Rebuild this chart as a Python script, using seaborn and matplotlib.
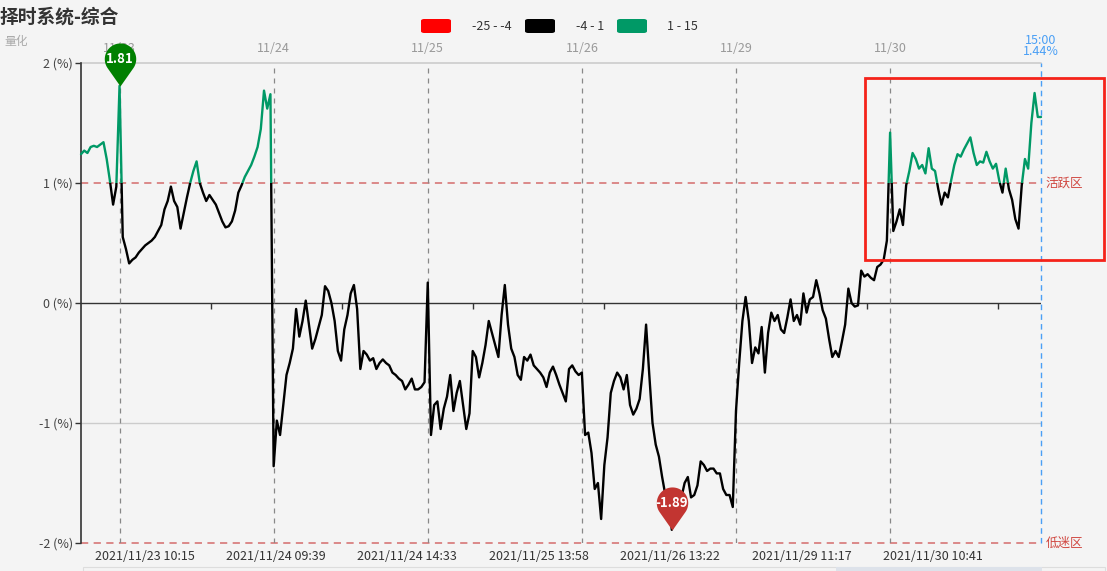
import numpy as np
import pandas as pd
import seaborn as sns
import matplotlib
matplotlib.use("Agg")
import matplotlib.pyplot as plt
import matplotlib.transforms as mtransforms
from matplotlib.patches import Rectangle, FancyBboxPatch
from matplotlib.path import Path

# ---------------- data (5-minute sampled, % values) ----------------
v_1122 = [1.24, 1.27, 1.25, 1.30, 1.31, 1.30, 1.32, 1.34, 1.20, 1.02, 0.82, 0.97]
v_1123 = [1.81, 0.55, 0.45, 0.33, 0.36, 0.38, 0.42, 0.45, 0.48, 0.50, 0.52, 0.55,
          0.60, 0.65, 0.78, 0.85, 0.97, 0.85, 0.80, 0.62, 0.75, 0.88, 1.00, 1.10,
          1.18, 1.00, 0.92, 0.85, 0.90, 0.86, 0.82, 0.75, 0.68, 0.63, 0.64, 0.68,
          0.77, 0.92, 0.98, 1.05, 1.10, 1.15, 1.22, 1.30, 1.45, 1.77, 1.62, 1.74]
v_1124 = [-1.36, -0.98, -1.10, -0.85, -0.60, -0.50, -0.38, -0.05, -0.28, -0.15, 0.02, -0.18,
          -0.38, -0.30, -0.20, -0.10, 0.14, 0.10, 0.00, -0.15, -0.40, -0.48, -0.22, -0.10,
          0.08, 0.15, -0.05, -0.55, -0.40, -0.43, -0.48, -0.46, -0.55, -0.50, -0.47, -0.50,
          -0.52, -0.58, -0.60, -0.63, -0.65, -0.72, -0.68, -0.63, -0.72, -0.72, -0.70, -0.66]
v_1125 = [0.17, -1.10, -0.85, -0.82, -1.05, -0.88, -0.78, -0.60, -0.90, -0.75, -0.65, -0.85,
          -1.05, -0.92, -0.40, -0.45, -0.62, -0.50, -0.35, -0.15, -0.25, -0.35, -0.45, -0.10,
          0.15, -0.18, -0.38, -0.45, -0.60, -0.64, -0.45, -0.48, -0.43, -0.52, -0.55, -0.58,
          -0.62, -0.70, -0.58, -0.53, -0.60, -0.68, -0.75, -0.82, -0.55, -0.52, -0.57, -0.60]
v_1126 = [-0.58, -1.10, -1.08, -1.25, -1.55, -1.50, -1.80, -1.35, -1.12, -0.75, -0.65, -0.58,
          -0.62, -0.72, -0.60, -0.85, -0.93, -0.88, -0.80, -0.55, -0.18, -0.60, -1.00, -1.18,
          -1.28, -1.45, -1.60, -1.62, -1.89, -1.78, -1.68, -1.62, -1.50, -1.45, -1.62, -1.60,
          -1.52, -1.32, -1.35, -1.40, -1.38, -1.38, -1.42, -1.42, -1.55, -1.60, -1.60, -1.70]
v_1129 = [-0.90, -0.50, -0.15, 0.05, -0.15, -0.50, -0.37, -0.42, -0.20, -0.58, -0.25, -0.08,
          -0.15, -0.10, -0.22, -0.25, -0.12, 0.03, -0.15, -0.10, -0.18, 0.08, -0.08, 0.03,
          0.05, 0.19, 0.08, -0.06, -0.13, -0.30, -0.45, -0.40, -0.45, -0.32, -0.18, 0.12,
          0.00, -0.03, -0.02, 0.27, 0.22, 0.24, 0.21, 0.19, 0.30, 0.32, 0.36, 0.52]
v_1130 = [1.42, 0.60, 0.68, 0.78, 0.65, 0.98, 1.10, 1.25, 1.20, 1.12, 1.15, 1.08,
          1.29, 1.12, 1.10, 0.95, 0.82, 0.92, 0.88, 1.02, 1.15, 1.24, 1.22, 1.28,
          1.33, 1.38, 1.25, 1.15, 1.18, 1.17, 1.26, 1.18, 1.12, 1.16, 1.02, 0.92,
          1.12, 0.95, 0.86, 0.70, 0.62, 0.98, 1.20, 1.12, 1.50, 1.75, 1.55, 1.55]

day_names = ["11/22", "11/23", "11/24", "11/25", "11/26", "11/29", "11/30"]
bottom_labels = ["2021/11/23 10:15", "2021/11/24 09:39", "2021/11/24 14:33",
                 "2021/11/25 13:58", "2021/11/26 13:22", "2021/11/29 11:17",
                 "2021/11/30 10:41"]
legend_labels = ["-25 - -4", "-4 - 1", "1 - 15"]
legend_colors = ["#ff0000", "#000000", "#009966"]
max_label, min_label = "1.81", "-1.89"
last_time, last_value = "15:00", "1.44%"
title = "择时系统-综合"
subtitle = "量化"

# ---------------- build time axis ----------------
def session_times():
    t = [(m // 60, m % 60) for m in [9 * 60 + 35 + 5 * k for k in range(24)]]
    t += [(m // 60, m % 60) for m in [13 * 60 + 5 + 5 * k for k in range(24)]]
    return t

def trade_min(day_order, hh, mm):
    if hh < 12:
        return day_order * 240 + (hh * 60 + mm - 570)
    return day_order * 240 + 120 + (hh * 60 + mm - 780)

series = [v_1122, v_1123, v_1124, v_1125, v_1126, v_1129, v_1130]
values, tmins, day_start = [], [], []
for d, vals in enumerate(series):
    times = session_times()
    if d == 0:
        times = times[-len(vals):]
    day_start.append(len(values))
    values += vals
    tmins += [trade_min(d, h, m) for h, m in times]
idx = np.arange(len(values))
df = pd.DataFrame({"idx": idx, "value": values})

lab_pos = []
for lab in bottom_labels:
    date, tm = lab.split(" ")
    dname = date[5:]
    h, m = map(int, tm.split(":"))
    lab_pos.append(float(np.interp(trade_min(day_names.index(dname), h, m), tmins, idx)))
half = (lab_pos[-1] - lab_pos[0]) / (len(lab_pos) - 1) / 2
tick_pos = [lab_pos[0] - half] + [(a + b) / 2 for a, b in zip(lab_pos[:-1], lab_pos[1:])] + [lab_pos[-1] + half]

# ---------------- style ----------------
sns.set_theme(style="white")
plt.rcParams["font.family"] = ["Noto Sans CJK SC", "DejaVu Sans"]
BG = "#f4f4f4"
W, H = 1107, 571
fig = plt.figure(figsize=(W / 100, H / 100), dpi=100, facecolor=BG)
fx = lambda p: p / W
fy = lambda p: 1 - p / H
ax = fig.add_axes([fx(81), fy(543), fx(960), 480 / H])
ax.set_facecolor(BG)

# grid / reference lines
ax.axhline(2, color="#cccccc", lw=1.2, zorder=1, clip_on=False)
ax.axhline(-1, color="#cccccc", lw=1.0, zorder=1)
ax.axhline(0, color="#333333", lw=1.0, zorder=1)
for yv in (1, -2):
    ax.axhline(yv, color="#d98080", lw=1.3, ls=(0, (4, 3)), zorder=1, clip_on=False)
for ds in day_start[1:]:
    ax.axvline(ds, color="#888888", lw=0.9, ls=(0, (4, 4)), zorder=1)
ax.axvline(idx[-1], color="#4a9ff5", lw=1.0, ls=(0, (4, 3)), zorder=1, clip_on=False)
ax.plot(tick_pos, [0] * len(tick_pos), ls="none", marker=3, ms=4, mew=1.0,
        color="#333333", zorder=2)

# main series, coloured by value band
sns.lineplot(data=df, x="idx", y="value", color="#000000", lw=1.7, ax=ax,
             legend=False, zorder=3)
ln_black = ax.lines[-1]
sns.lineplot(data=df, x="idx", y="value", color="#009966", lw=1.7, ax=ax,
             legend=False, zorder=3)
ln_green = ax.lines[-1]
clip_lo = Rectangle((-10, -10), 400, 11, transform=ax.transData, visible=False)
clip_hi = Rectangle((-10, 1), 400, 20, transform=ax.transData, visible=False)
ax.add_patch(clip_lo); ax.add_patch(clip_hi)
ln_black.set_clip_path(clip_lo)
ln_green.set_clip_path(clip_hi)

# pins
def pin_path(c=1.74, r=1.0):
    a = np.arccos(r / c)
    th = np.linspace(-np.pi / 2 + a, 3 * np.pi / 2 - a, 80)
    arc = np.column_stack([r * np.cos(th), c + r * np.sin(th)])
    verts = np.vstack([[0, 0], arc, [0, 0]])
    codes = [Path.MOVETO] + [Path.LINETO] * len(arc) + [Path.CLOSEPOLY]
    return Path(verts, codes)

pin = pin_path()
vals = np.array(values)
imax, imin = int(np.argmax(vals)), int(np.argmin(vals))
for i, col, lab in [(imax, "#008000", max_label), (imin, "#c23531", min_label)]:
    ax.plot([i], [vals[i]], ls="none", marker=pin, ms=62, color=col, mec="none",
            zorder=6, clip_on=False)
    ax.annotate(lab, (i, vals[i]), xytext=(0, 19.6), textcoords="offset points",
                ha="center", va="center", color="white", fontsize=9.5,
                fontweight="bold", zorder=7, annotation_clip=False)

# axes
ax.set_xlim(0, idx[-1])
ax.set_ylim(-2, 2)
ax.set_yticks([-2, -1, 0, 1, 2])
ax.set_yticklabels([f"{v} (%)" for v in [-2, -1, 0, 1, 2]])
ax.set_xticks(lab_pos)
ax.set_xticklabels(bottom_labels)
ax.tick_params(axis="y", length=4, width=1, color="#333333", pad=2,
               labelsize=9, labelcolor="#444444", left=True)
ax.tick_params(axis="x", length=0, pad=5, labelsize=9, labelcolor="#333333")
ax.set_xlabel(""); ax.set_ylabel("")
for s in ["top", "right", "bottom"]:
    ax.spines[s].set_visible(False)
ax.spines["left"].set_color("#333333")
ax.spines["left"].set_linewidth(1.2)

# top day labels
trans = mtransforms.blended_transform_factory(ax.transData, ax.transAxes)
for ds, name in zip(day_start[1:], day_names[1:]):
    ax.text(ds, 1 + 15 / 480, name, transform=trans, ha="center", va="center",
            fontsize=9, color="#999999", zorder=0, clip_on=False)
ax.text(idx[-1], 1 + 23 / 480, last_time, transform=trans, ha="center", va="center",
        fontsize=9, color="#4a9ff5", clip_on=False)
ax.text(idx[-1], 1 + 12 / 480, last_value, transform=trans, ha="center", va="center",
        fontsize=9, color="#4a9ff5", clip_on=False)
ax.text(idx[-1] + 1.5, 1, "活跃区", ha="left", va="center", fontsize=9,
        color="#d0463f", clip_on=False)
ax.text(idx[-1] + 1.5, -2, "低迷区", ha="left", va="center", fontsize=9,
        color="#d0463f", clip_on=False)

# titles
fig.text(fx(0), fy(17), title, ha="left", va="center", fontsize=13.5,
         fontweight="bold", color="#333333")
fig.text(fx(4), fy(42), subtitle, ha="left", va="center", fontsize=8.5, color="#aaaaaa")

# legend
sw = [421, 525, 617]
tx = [472, 576, 667]
for x0, t0, lab, col in zip(sw, tx, legend_labels, legend_colors):
    fig.patches.append(FancyBboxPatch((fx(x0), fy(33)), fx(30), 14 / H,
                                      boxstyle="round,pad=0,rounding_size=0.003",
                                      transform=fig.transFigure, facecolor=col,
                                      edgecolor="none"))
    fig.text(fx(t0), fy(26), lab, ha="left", va="center", fontsize=9, color="#333333")

# highlight box
fig.patches.append(Rectangle((fx(865), fy(260)), fx(239), 182 / H, fill=False,
                             edgecolor="#f5231a", lw=2.0, transform=fig.transFigure,
                             zorder=10))
# bottom slider
fig.patches.append(Rectangle((fx(83), fy(571)), fx(1022), 4 / H, facecolor=BG,
                             edgecolor="#dddddd", lw=0.8, transform=fig.transFigure))
fig.patches.append(Rectangle((fx(836), fy(571)), fx(206), 4 / H, facecolor="#dde2ea",
                             edgecolor="none", transform=fig.transFigure))

fig.savefig("out.png", dpi=100, facecolor=BG)
